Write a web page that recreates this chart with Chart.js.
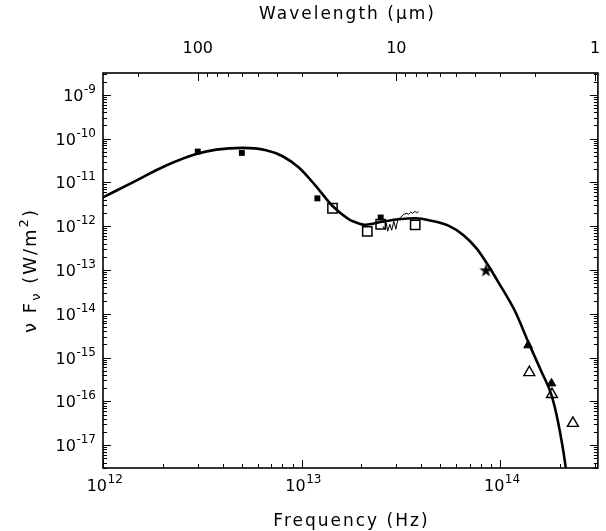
<!DOCTYPE html>
<html><head><meta charset="utf-8">
<script src="https://cdn.jsdelivr.net/npm/chart.js@4"></script>
<style>html,body{margin:0;padding:0;background:#fff}#wrap{width:606px;height:531px}</style>
</head><body><div id="wrap"><canvas id="sed"></canvas></div>
<script>
// ── SED data: frequency (Hz) vs nu*F_nu (W/m^2) ──
const modelNu=[1.0e12,1.42e12,2.08e12,3.0e12,3.72e12,5.05e12,6.62e12,8.02e12,9.71e12,1.18e13,1.43e13,1.73e13,1.87e13,2.10e13,2.53e13,3.08e13,3.75e13,4.51e13,5.48e13,6.53e13,7.61e13,8.6e13,9.77e13,1.19e14,1.38e14,1.61e14,1.81e14,1.95e14,2.13e14,2.17e14];
const modelFlux=[4.56e-12,1.02e-11,2.43e-11,4.56e-11,5.62e-11,6.15e-11,5.42e-11,3.96e-11,2.16e-11,8.24e-12,2.89e-12,1.44e-12,1.23e-12,1.08e-12,1.26e-12,1.44e-12,1.52e-12,1.33e-12,1.03e-12,6.24e-13,3.08e-13,1.37e-13,5.3e-14,1.11e-14,2.31e-15,4.8e-16,1.39e-16,3.5e-17,3.3e-18,1.5e-18];
const irasNu=[3.0e12,5.0e12,1.2e13,2.5e13];
const irasFlux=[5.07e-11,4.73e-11,4.33e-12,1.58e-12];
const msxNu=[1.43e13,2.14e13,2.5e13,3.73e13];
const msxFlux=[2.57e-12,7.6e-13,1.11e-12,1.07e-12];
const specNu=[2.56e13,2.62e13,2.67e13,2.71e13,2.78e13,2.84e13,2.91e13,2.98e13,3.05e13,3.15e13,3.27e13,3.38e13,3.46e13,3.54e13,3.62e13,3.71e13,3.79e13,3.88e13];
const specFlux=[1.0e-12,8.55e-13,1.17e-12,7.7e-13,1.11e-12,8.1e-13,1.30e-12,8.55e-13,1.44e-12,1.60e-12,1.87e-12,1.97e-12,1.87e-12,2.08e-12,1.97e-12,2.19e-12,2.03e-12,2.14e-12];
const starNu=[8.47e13];
const starFlux=[9.6e-14];
const nirNu=[1.38e14,1.81e14];
const nirFlux=[1.9e-15,2.57e-16];
const nirOpenNu=[1.40e14,1.82e14,2.32e14];
const nirOpenFlux=[4.56e-16,1.44e-16,3.16e-17];

const yExps=[-17,-16,-15,-14,-13,-12,-11,-10,-9];
const xExps=[12,13,14];
const topMajor=[100,10,1];            // wavelength (um)
const topMinor=[200,90,80,70,60,50,40,30,20,9,8,7,6,5,4,3,2];
const C_UM=2.998e14;

const pts=(xs,ys)=>xs.map((v,i)=>({x:v,y:ys[i]}));
const FONT='"DejaVu Sans", sans-serif';

// filled star marker
const starImg=document.createElement('canvas');
starImg.width=15;starImg.height=15;
(function(){const g=starImg.getContext('2d');g.fillStyle='#000';g.beginPath();
  for(let i=0;i<10;i++){const r=i%2?2.8:7,a=-Math.PI/2+i*Math.PI/5;g.lineTo(7.5+r*Math.cos(a),7.5+r*Math.sin(a))}
  g.closePath();g.fill()})();

// "10" with a superscript exponent; x is the right edge or the centre
function supText(ctx,base,sup,x,y,align){
  ctx.letterSpacing='0px';ctx.textBaseline='alphabetic';
  ctx.font='16px '+FONT;const bw=ctx.measureText(base).width;
  ctx.font='12px '+FONT;const sw=ctx.measureText(sup).width;
  const right=align==='right'?x:x+(bw+sw)/2;
  ctx.textAlign='right';
  ctx.font='12px '+FONT;ctx.fillText(sup,right,y-8);
  ctx.font='16px '+FONT;ctx.fillText(base,right-sw-0.5,y);
}

const frame={id:'frame',afterDraw(c){
  const {ctx,chartArea:a,scales:{x,y}}=c;
  ctx.save();ctx.strokeStyle='#000';ctx.fillStyle='#000';
  ctx.lineWidth=1.6;ctx.strokeRect(a.left,a.top,a.right-a.left,a.bottom-a.top);
  ctx.lineWidth=1;
  const ln=(x1,y1,x2,y2)=>{ctx.beginPath();ctx.moveTo(x1,y1);ctx.lineTo(x2,y2);ctx.stroke()};
  // y ticks, both sides
  for(let e=-18;e<=-9;e++)for(let k=1;k<10;k++){
    const v=k*Math.pow(10,e);if(v<y.min||v>y.max)continue;
    const py=Math.round(y.getPixelForValue(v))+.5,L=k===1?8:4;
    ln(a.left,py,a.left+L,py);ln(a.right,py,a.right-L,py);
  }
  // bottom ticks
  for(let e=12;e<=14;e++)for(let k=1;k<10;k++){
    const v=k*Math.pow(10,e);if(v<x.min||v>x.max)continue;
    const px=Math.round(x.getPixelForValue(v))+.5,L=k===1?8:4;
    ln(px,a.bottom,px,a.bottom-L);
  }
  // top (wavelength) ticks
  topMajor.concat(topMinor).forEach(w=>{
    const v=C_UM/w;if(v<x.min||v>x.max)return;
    const px=Math.round(x.getPixelForValue(v))+.5,L=topMajor.includes(w)?8:4;
    ln(px,a.top,px,a.top+L);
  });
  // labels
  yExps.forEach(e=>{const py=y.getPixelForValue(Math.pow(10,e));supText(ctx,'10','-'+Math.abs(e),96,py+6,'right')});
  xExps.forEach(e=>{const px=x.getPixelForValue(Math.pow(10,e));supText(ctx,'10',String(e),px+2,491,'center')});
  ctx.font='16px '+FONT;ctx.textAlign='center';
  topMajor.forEach(w=>{ctx.fillText(String(w),x.getPixelForValue(C_UM/w),53)});
  // axis titles
  ctx.font='17px '+FONT;ctx.letterSpacing='2px';
  ctx.fillText('Frequency (Hz)',(a.left+a.right)/2+1,526);
  ctx.fillText('Wavelength (\u03bcm)',(a.left+a.right)/2-3,19);
  ctx.textAlign='left';
  ctx.translate(36,(a.top+a.bottom)/2);ctx.rotate(-Math.PI/2);
  const parts=[['\u03bd ',18,0],['F',18,0],['\u03bd',13,4],[' (W/m',18,0],['2',13,-8],[')',18,0]];
  let tw=0;parts.forEach(p=>{ctx.font=p[1]+'px '+FONT;tw+=ctx.measureText(p[0]).width});
  let cx=-tw/2;
  parts.forEach(p=>{ctx.font=p[1]+'px '+FONT;ctx.fillText(p[0],cx,p[2]);cx+=ctx.measureText(p[0]).width});
  ctx.restore();
}};

new Chart(document.getElementById('sed'),{
  type:'scatter',
  data:{datasets:[
    {data:pts(irasNu,irasFlux),pointStyle:'rect',pointRadius:4.2,backgroundColor:'#000',borderColor:'#000',borderWidth:0},
    {data:pts(msxNu,msxFlux),pointStyle:'rect',pointRadius:6.6,backgroundColor:'rgba(0,0,0,0)',borderColor:'#000',borderWidth:1.5},
    {data:pts(starNu,starFlux),pointStyle:starImg,pointRadius:7},
    {data:pts(nirNu,nirFlux),pointStyle:'triangle',pointRadius:5,backgroundColor:'#000',borderColor:'#000',borderWidth:1},
    {data:pts(nirOpenNu,nirOpenFlux),pointStyle:'triangle',pointRadius:6.3,backgroundColor:'rgba(0,0,0,0)',borderColor:'#000',borderWidth:1.4},
    {data:pts(specNu,specFlux),showLine:true,pointRadius:0,borderColor:'#000',borderWidth:1,tension:0},
    {data:pts(modelNu,modelFlux),showLine:true,pointRadius:0,borderColor:'#000',borderWidth:2.6,cubicInterpolationMode:'monotone'}
  ]},
  options:{
    responsive:true,maintainAspectRatio:false,animation:false,
    layout:{padding:{left:103,right:6,top:73,bottom:63}},
    plugins:{legend:{display:false},tooltip:{enabled:false}},
    scales:{
      x:{type:'logarithmic',min:1e12,max:3.1e14,display:false},
      y:{type:'logarithmic',min:3.33e-18,max:3.16e-9,display:false}
    }
  },
  plugins:[frame]
});
</script>
</body></html>
